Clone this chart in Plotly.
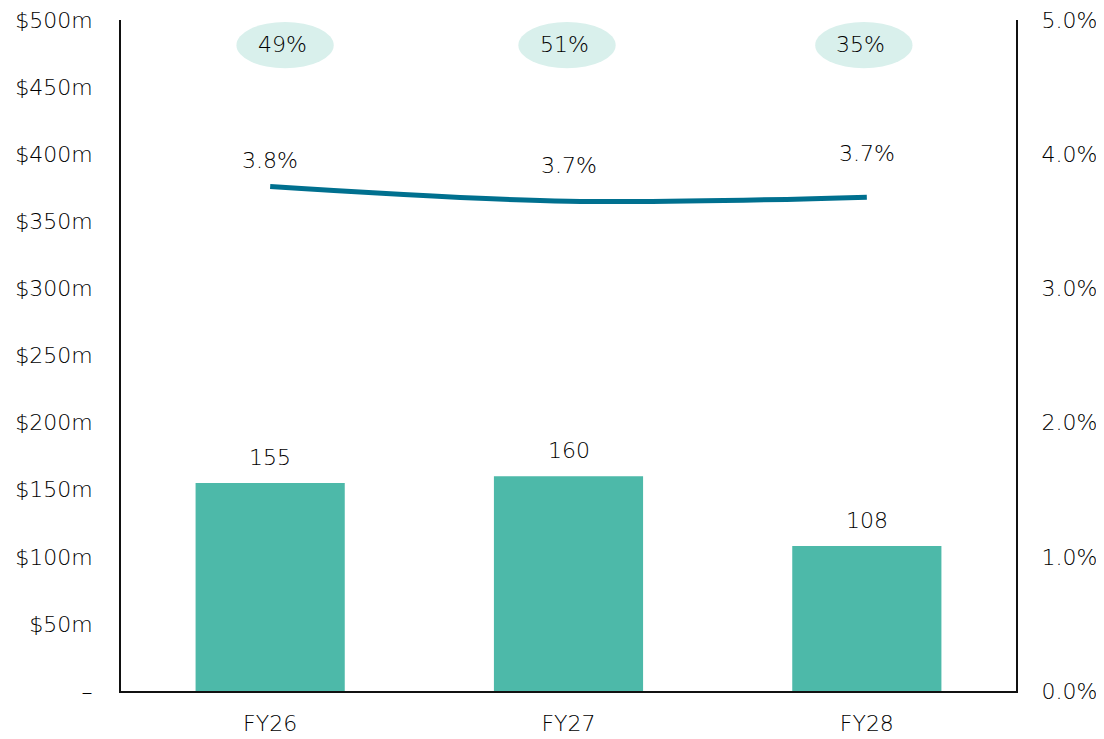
import plotly.graph_objects as go

categories = ["FY26", "FY27", "FY28"]
bar_values = [155, 160, 108]           # $m
line_values = [3.76, 3.65, 3.68]       # %
line_labels = ["3.8%", "3.7%", "3.7%"]
bubble_labels = ["49%", "51%", "35%"]

left_tickvals = [0, 50, 100, 150, 200, 250, 300, 350, 400, 450, 500]
left_ticktext = ["–", "$50m", "$100m", "$150m", "$200m", "$250m", "$300m",
                 "$350m", "$400m", "$450m", "$500m"]
right_tickvals = [0, 1, 2, 3, 4, 5]
right_ticktext = ["0.0%", "1.0%", "2.0%", "3.0%", "4.0%", "5.0%"]

FONT = "DejaVu Sans"
FS = 22
WEIGHT = 300
BAR_COLOR = "#4DB9A9"
LINE_COLOR = "#00708F"
BUBBLE_COLOR = "#D9F0EC"
TXT = "#000000"

def f(size=FS):
    return dict(family=FONT, size=size, color=TXT, weight=WEIGHT)

fig = go.Figure()
fig.add_trace(go.Bar(x=categories, y=bar_values, marker=dict(color=BAR_COLOR, line=dict(width=0)),
                     width=0.5, hoverinfo="skip"))
fig.add_trace(go.Scatter(x=categories, y=line_values, yaxis="y2", mode="lines",
                         line=dict(color=LINE_COLOR, width=5, shape="spline", smoothing=1),
                         hoverinfo="skip"))

annotations = []
for c, v in zip(categories, bar_values):
    annotations.append(dict(x=c, y=v, xref="x", yref="y", text=str(v), showarrow=False,
                            yanchor="bottom", yshift=11, font=f()))
label_shift = [11, 21, 29]
for c, v, t, s in zip(categories, line_values, line_labels, label_shift):
    annotations.append(dict(x=c, y=v, xref="x", yref="y2", text=t, showarrow=False,
                            yanchor="bottom", yshift=s, font=f()))

bubble_dx = [0.05, -0.005, -0.01]
shapes = []
for i, (t, dx) in enumerate(zip(bubble_labels, bubble_dx)):
    cx = i + dx
    shapes.append(dict(type="circle", xref="x", yref="paper", x0=cx - 0.163, x1=cx + 0.163,
                       y0=0.928, y1=0.997, fillcolor=BUBBLE_COLOR, line=dict(width=0), layer="below"))
    annotations.append(dict(x=cx - 0.01, y=0.963, xref="x", yref="paper", text=t, showarrow=False,
                            yanchor="middle", xanchor="center", font=f(22)))

# page body has an 8px margin, so the figure is sized/offset to compensate
fig.update_layout(
    width=1096, height=731,
    margin=dict(l=113, r=88, t=12, b=48),
    paper_bgcolor="white", plot_bgcolor="white",
    showlegend=False,
    font=f(),
    xaxis=dict(type="category", range=[-0.5, 2.5], showline=True, linecolor="#111", linewidth=2,
               ticks="", showgrid=False, tickfont=f(), ticklabelstandoff=12, automargin=False),
    yaxis=dict(range=[0, 500], tickvals=left_tickvals, ticktext=left_ticktext, showline=True,
               linecolor="#111", linewidth=2, showgrid=False, zeroline=False, ticks="",
               ticklabelstandoff=22, tickfont=f(), automargin=False, ticklabeloverflow="allow"),
    yaxis2=dict(range=[0, 5], tickvals=right_tickvals, ticktext=right_ticktext, overlaying="y",
                side="right", showline=True, linecolor="#111", linewidth=2, showgrid=False,
                zeroline=False, ticks="", ticklabelstandoff=19, tickfont=f(), automargin=False,
                ticklabeloverflow="allow"),
    annotations=annotations, shapes=shapes,
)

fig.write_html("out.html")
